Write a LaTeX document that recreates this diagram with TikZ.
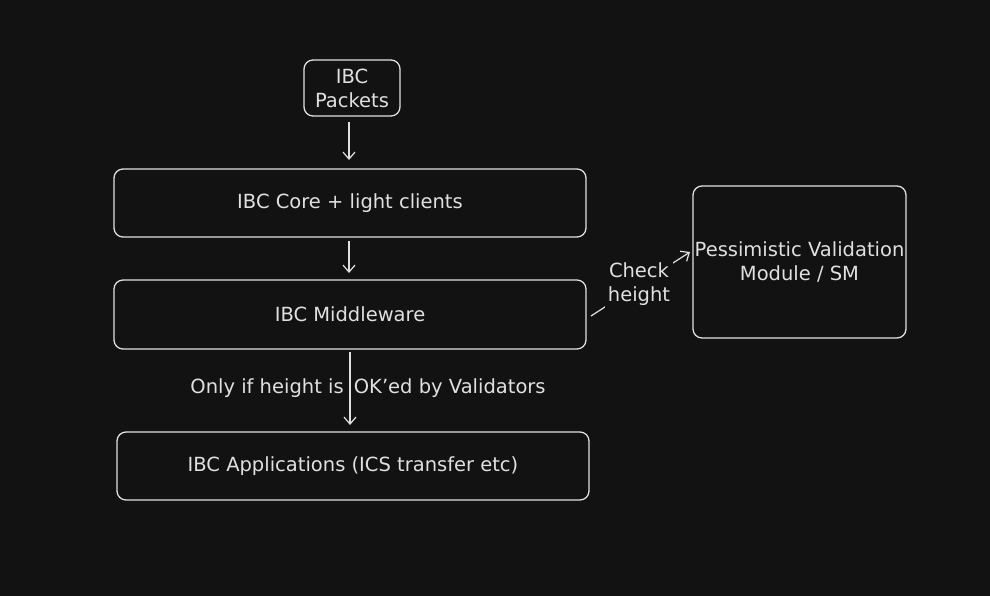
\documentclass[tikz,border=0pt]{standalone}
\usepackage{fontspec}
\setmainfont{DejaVu Sans}
\usetikzlibrary{arrows.meta}
\definecolor{bg}{HTML}{121212}
\definecolor{ink}{HTML}{E0E0E0}
\begin{document}
\begin{tikzpicture}[x=1pt,y=-1pt,
  box/.style={draw=ink,line width=1.3pt,rounded corners=9pt,inner sep=0pt,align=center,text=ink,font=\fontsize{19.5}{24}\selectfont},
  conn/.style={draw=ink,line width=1.2pt,-{Straight Barb[length=7pt,width=12pt]}},
  lbl/.style={text=ink,font=\fontsize{19.5}{24}\selectfont,align=center,inner sep=1pt}]
\fill[bg] (0,0) rectangle (990,596);
\useasboundingbox (0,0) rectangle (990,596);
\node[box,minimum width=96pt,minimum height=56pt] (pk) at (352,88) {IBC\\Packets};
\node[box,minimum width=472pt,minimum height=68pt] (core) at (350,203) {IBC Core + light clients};
\node[box,minimum width=472pt,minimum height=69pt] (mid) at (350,314.5) {IBC Middleware};
\node[box,minimum width=472pt,minimum height=68pt] (app) at (353,466) {IBC Applications (ICS transfer etc)};
\node[box,minimum width=213pt,minimum height=152pt] (pvm) at (799.5,262) {Pessimistic Validation\\Module / SM};
\coordinate (a1s) at (349,122); \coordinate (a1e) at (349,160);
\coordinate (a2s) at (349,241); \coordinate (a2e) at (349,273);
\coordinate (a3s) at (350,352); \coordinate (a3e) at (350,425);
\coordinate (a4s) at (591,316); \coordinate (a4e) at (690,252);
\draw[conn] (a1s) -- (a1e);
\draw[conn] (a2s) -- (a2e);
\node[lbl] (ok) at (368,388) {Only if height is \hspace{4pt}OK'ed by Validators};
\draw[conn] (a3s) -- (a3e);
\draw[conn] (a4s) -- (a4e);
\node[lbl,fill=bg,inner sep=3pt] (chk) at (639,284) {Check\\height};
\end{tikzpicture}
\end{document}
